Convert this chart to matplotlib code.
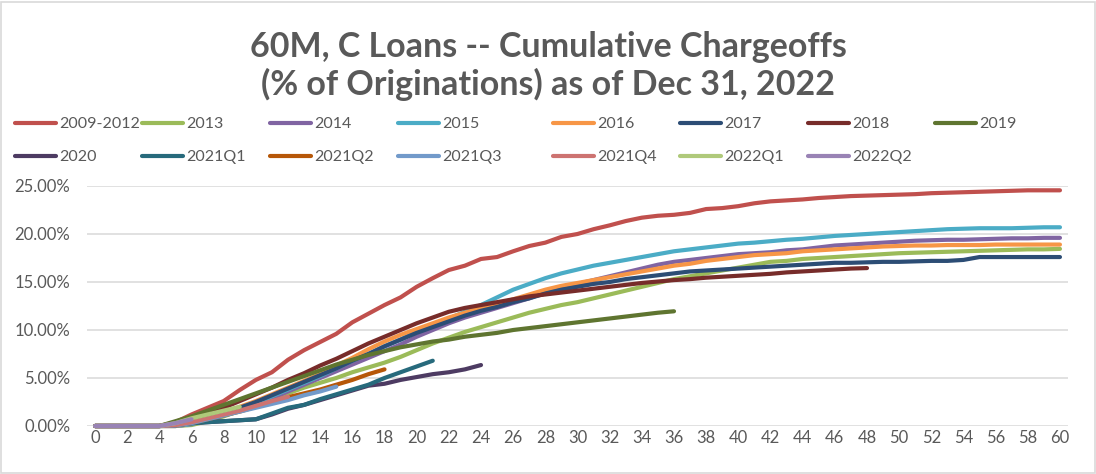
import matplotlib
matplotlib.use("Agg")
import matplotlib.pyplot as plt
from matplotlib.lines import Line2D
from matplotlib.patches import Rectangle
from matplotlib.ticker import FuncFormatter

# ---------------- data (cumulative chargeoffs, % of originations) ----------------
vintages = ["2009-2012", "2013", "2014", "2015", "2016", "2017", "2018", "2019",
            "2020", "2021Q1", "2021Q2", "2021Q3", "2021Q4", "2022Q1", "2022Q2"]

v2009_2012 = [0, 0, 0, 0, 0, 0.4, 1.2, 1.9, 2.6, 3.75, 4.8, 5.6, 6.9, 7.9, 8.75,
              9.6, 10.8, 11.7, 12.6, 13.4, 14.5, 15.4, 16.25, 16.7, 17.4,
              17.6, 18.2, 18.75, 19.1, 19.7, 20.0, 20.5, 20.9, 21.35, 21.7,
              21.9, 22.0, 22.2, 22.6, 22.7, 22.9, 23.2, 23.4, 23.5, 23.6,
              23.75, 23.85, 23.95, 24.0, 24.05, 24.1, 24.15, 24.25, 24.3, 24.35,
              24.4, 24.45, 24.5, 24.55, 24.55, 24.55]
v2013 = [0, 0, 0, 0, 0, 0, 0.1, 0.5, 1.0, 1.6, 2.2, 2.8, 3.4, 4.0, 4.5,
         5.0, 5.6, 6.1, 6.6, 7.2, 7.9, 8.6, 9.2, 9.8, 10.3,
         10.8, 11.3, 11.8, 12.2, 12.6, 12.9, 13.3, 13.7, 14.1, 14.5,
         14.9, 15.3, 15.6, 15.9, 16.2, 16.5, 16.8, 17.1, 17.2, 17.4,
         17.5, 17.6, 17.7, 17.8, 17.9, 18.0, 18.05, 18.1, 18.15, 18.2,
         18.25, 18.3, 18.35, 18.4, 18.4, 18.45]
v2014 = [0, 0, 0, 0, 0, 0, 0.2, 0.6, 1.1, 1.7, 2.3, 2.9, 3.6, 4.3, 5.0,
         5.7, 6.4, 7.1, 7.8, 8.5, 9.3, 10.0, 10.7, 11.3, 11.8,
         12.3, 12.8, 13.3, 13.9, 14.4, 14.8, 15.2, 15.6, 16.0, 16.4,
         16.8, 17.1, 17.3, 17.5, 17.7, 17.9, 18.0, 18.1, 18.3, 18.4,
         18.6, 18.8, 18.9, 19.0, 19.1, 19.2, 19.3, 19.35, 19.4, 19.4,
         19.45, 19.5, 19.55, 19.55, 19.6, 19.6]
v2015 = [0, 0, 0, 0, 0, 0, 0.2, 0.7, 1.2, 1.8, 2.4, 3.1, 3.8, 4.5, 5.2,
         6.0, 6.8, 7.5, 8.3, 9.0, 9.8, 10.5, 11.2, 11.9, 12.6,
         13.4, 14.2, 14.8, 15.4, 15.9, 16.3, 16.7, 17.0, 17.3, 17.6,
         17.9, 18.2, 18.4, 18.6, 18.8, 19.0, 19.1, 19.25, 19.4, 19.5,
         19.65, 19.8, 19.9, 20.0, 20.1, 20.2, 20.3, 20.4, 20.5, 20.55,
         20.6, 20.6, 20.6, 20.65, 20.7, 20.7]
v2016 = [0, 0, 0, 0, 0, 0, 0.3, 0.8, 1.4, 2.0, 2.6, 3.3, 4.0, 4.7, 5.4,
         6.3, 7.1, 8.0, 8.8, 9.5, 10.1, 10.7, 11.3, 11.8, 12.3,
         12.7, 13.2, 13.7, 14.2, 14.6, 14.9, 15.2, 15.5, 15.8, 16.1,
         16.4, 16.7, 16.9, 17.2, 17.4, 17.6, 17.8, 17.9, 18.0, 18.2,
         18.3, 18.4, 18.5, 18.6, 18.7, 18.75, 18.8, 18.8, 18.85, 18.85,
         18.85, 18.9, 18.9, 18.9, 18.9, 18.9]
v2017 = [0, 0, 0, 0, 0, 0.05, 0.3, 0.8, 1.3, 1.9, 2.5, 3.2, 3.9, 4.6, 5.3,
         6.0, 6.8, 7.5, 8.3, 9.0, 9.7, 10.3, 10.9, 11.5, 12.0,
         12.4, 12.9, 13.3, 13.8, 14.2, 14.5, 14.8, 15.0, 15.3, 15.5,
         15.7, 15.9, 16.1, 16.2, 16.3, 16.4, 16.5, 16.6, 16.7, 16.8,
         16.9, 17.0, 17.0, 17.05, 17.1, 17.1, 17.15, 17.2, 17.2, 17.3,
         17.6, 17.6, 17.6, 17.6, 17.6, 17.6]
v2018 = [0, 0, 0, 0, 0, 0.1, 0.6, 1.2, 1.9, 2.6, 3.3, 4.0, 4.8, 5.5, 6.3,
         7.0, 7.8, 8.6, 9.3, 10.0, 10.7, 11.3, 11.9, 12.3, 12.6,
         12.9, 13.2, 13.5, 13.7, 13.9, 14.1, 14.3, 14.5, 14.7, 14.9,
         15.05, 15.2, 15.3, 15.45, 15.55, 15.65, 15.75, 15.85, 16.0, 16.1,
         16.2, 16.3, 16.4, 16.45]
v2019 = [0, 0, 0, 0, 0, 0.5, 1.0, 1.6, 2.2, 2.8, 3.4, 4.0, 4.6, 5.2, 5.8,
         6.4, 6.9, 7.4, 7.8, 8.2, 8.5, 8.8, 9.0, 9.3, 9.5,
         9.7, 10.0, 10.2, 10.4, 10.6, 10.8, 11.0, 11.2, 11.4, 11.6,
         11.8, 11.95]
v2020 = [0, 0, 0, 0, 0, 0.1, 0.3, 0.4, 0.5, 0.6, 0.7, 1.2, 1.8, 2.2, 2.7,
         3.2, 3.7, 4.2, 4.4, 4.8, 5.1, 5.4, 5.6, 5.9, 6.35]
v2021q1 = [0, 0, 0, 0, 0, 0.1, 0.3, 0.4, 0.5, 0.6, 0.7, 1.3, 1.9, 2.2, 2.8,
           3.3, 3.8, 4.3, 5.0, 5.6, 6.2, 6.8]
v2021q2 = [0, 0, 0, 0, 0, 0.1, 0.3, 0.7, 1.1, 1.5, 2.0, 2.5, 3.0, 3.4, 3.8,
           4.3, 4.8, 5.4, 5.9]
v2021q3 = [0, 0, 0, 0, 0, 0.05, 0.3, 0.7, 1.1, 1.5, 1.9, 2.3, 2.7, 3.2, 3.6, 4.1]
v2021q4 = [0, 0, 0, 0, 0, 0.1, 0.4, 0.8, 1.2, 1.6, 2.1, 2.6, 3.05]
v2022q1 = [0, 0, 0, 0, 0, 0.3, 0.8, 1.2, 1.6, 2.0]
v2022q2 = [0, 0, 0, 0, 0, 0.3, 0.7]

series = [v2009_2012, v2013, v2014, v2015, v2016, v2017, v2018, v2019,
          v2020, v2021q1, v2021q2, v2021q3, v2021q4, v2022q1, v2022q2]

x_ticks = list(range(0, 61, 2))
y_ticks = [0, 5, 10, 15, 20, 25]

title = "60M, C Loans -- Cumulative Chargeoffs\n(% of Originations) as of Dec 31, 2022"

# ---------------- style ----------------
colors = ["#C0504D", "#9BBB59", "#8064A2", "#4BACC6", "#F79646", "#2C4D75",
          "#772C2A", "#5F7530", "#4D3B62", "#276A7C", "#B65708", "#729ACA",
          "#CD7371", "#AFC97A", "#9983B5"]
txt_color = "#595959"
grid_color = "#D9D9D9"
FONT = ["Lato", "DejaVu Sans"]
plt.rcParams["font.family"] = FONT

W, H = 1096, 474
fig = plt.figure(figsize=(W / 100, H / 100), dpi=100)
fig.patch.set_facecolor("white")

ax_l, ax_r, ax_t, ax_b = 87, 1068, 186, 426
ax = fig.add_axes([ax_l / W, 1 - ax_b / H, (ax_r - ax_l) / W, (ax_b - ax_t) / H])

for vals, col in zip(series, colors):
    ax.plot(range(len(vals)), vals, color=col, lw=3.0,
            solid_capstyle="round", solid_joinstyle="round", clip_on=False, zorder=3)

ax.set_xlim(-0.5, 60.5)
ax.set_ylim(0, 25)
ax.set_xticks(x_ticks)
ax.set_yticks(y_ticks)
ax.yaxis.set_major_formatter(FuncFormatter(lambda v, p: f"{v:.2f}%"))
ax.grid(axis="y", color=grid_color, lw=1.1, zorder=1)
ax.set_axisbelow(True)
for s in ax.spines.values():
    s.set_visible(False)
ax.tick_params(axis="both", length=0, labelsize=12, labelcolor=txt_color)
ax.tick_params(axis="y", pad=12)
ax.tick_params(axis="x", pad=3)

# title
fig.text(0.5, 1 - 66 / H, title, ha="center", va="center", fontsize=24.5,
         fontweight="bold", color=txt_color, linespacing=1.2)

# legend: two rows, Excel-like fixed column positions
col_x = [15, 142, 270, 398, 553, 680, 808, 935]
row_y = [124, 157]
for i, (lab, col) in enumerate(zip(vintages, colors)):
    r, c = divmod(i, 8)
    h = Line2D([], [], color=col, lw=3.0, solid_capstyle="round")
    leg = fig.legend([h], [lab], loc="center left",
                     bbox_to_anchor=(col_x[c] / W, 1 - row_y[r] / H),
                     frameon=False, fontsize=11.5, handlelength=2.55,
                     handletextpad=0.2, borderpad=0, borderaxespad=0)
    for t in leg.get_texts():
        t.set_color(txt_color)

# chart border
fig.patches.append(Rectangle((0.5 / W, 1.5 / H), 1 - 2 / W, 1 - 3 / H,
                             transform=fig.transFigure, fill=False,
                             edgecolor=grid_color, lw=1.2))

fig.savefig("out.png", dpi=100, facecolor="white")
